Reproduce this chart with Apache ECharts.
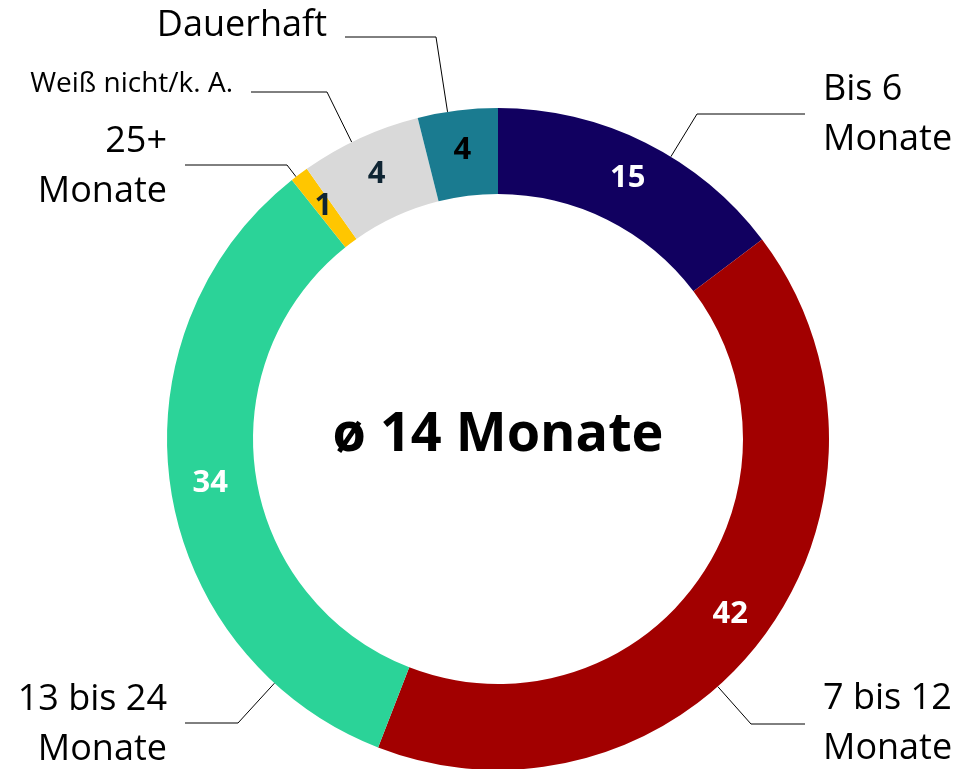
<!DOCTYPE html>
<html>
<head>
<meta charset="utf-8">
<script src="https://cdn.jsdelivr.net/npm/echarts@6/dist/echarts.min.js"></script>
<style>
html, body { margin: 0; padding: 0; background: #fff; }
#chart { width: 962px; height: 769px; }
</style>
</head>
<body>
<div id="chart"></div>
<script>
var categories = ['Bis 6\nMonate', '7 bis 12\nMonate', '13 bis 24\nMonate', '25+\nMonate', 'Weiß nicht/k. A.', 'Dauerhaft'];
// slice sizes as drawn in the picture
var shares = [14.7, 41.2, 33.4, 0.9, 5.9, 3.9];
// numbers printed on the slices
var valueLabels = ['15', '42', '34', '1', '4', '4'];
var centerText = 'ø 14 Monate';

var colors = ['#110060', '#A20000', '#2BD398', '#FFC600', '#D9D9D9', '#1A7B90'];
var valueColors = ['#fff', '#fff', '#fff', '#0f2533', '#0f2533', '#000'];

// where the outside labels sit: [textX, textY, elbowX, lineY, align]
var labelSpots = [
    [823, 115, 697, 114, 'left'],
    [823, 724, 751, 724, 'left'],
    [167, 725, 238, 723, 'right'],
    [167, 167, 287, 165, 'right'],
    [233, 84, 327, 92, 'right'],
    [327, 26, 436, 37, 'right']
];

var center = [498, 439],
    radius = [245, 331],
    font = 'Open Sans';

// leader: radial from ring edge towards the elbow, then horizontal to the text
function leader(i) {
    var s = labelSpots[i];
    var dx = s[2] - center[0], dy = s[3] - center[1];
    var d = Math.sqrt(dx * dx + dy * dy);
    var start = [center[0] + dx / d * radius[1], center[1] + dy / d * radius[1]];
    var endX = s[4] === 'left' ? s[0] - 18 : s[0] + 18;
    return [start, [s[2], s[3]], [endX, s[3]]];
}

var outerData = shares.map(function (v, i) {
    var item = { value: v, name: categories[i], itemStyle: { color: colors[i] } };
    if (i === 4) {
        item.label = { fontSize: 28, lineHeight: 34 };
    }
    return item;
});

var innerData = shares.map(function (v, i) {
    return { value: v, name: categories[i], label: { color: valueColors[i] } };
});

var myChart = echarts.init(document.getElementById('chart'));

myChart.setOption({
    animation: false,
    graphic: [{
        type: 'text',
        style: {
            x: center[0],
            y: 436,
            text: centerText,
            fontFamily: font,
            fontSize: 54,
            fontWeight: 'bold',
            fill: '#000',
            align: 'center',
            verticalAlign: 'middle'
        }
    }],
    series: [
        {
            type: 'pie',
            center: center,
            radius: radius,
            startAngle: 90,
            clockwise: true,
            avoidLabelOverlap: false,
            silent: true,
            itemStyle: { borderWidth: 0 },
            label: {
                show: true,
                position: 'outside',
                formatter: '{b}',
                fontFamily: font,
                fontSize: 36,
                lineHeight: 50,
                color: '#000'
            },
            labelLine: {
                show: true,
                lineStyle: { color: '#000', width: 1 }
            },
            labelLayout: function (params) {
                var s = labelSpots[params.dataIndex];
                return {
                    x: s[0],
                    y: s[1],
                    align: s[4],
                    verticalAlign: 'middle',
                    labelLinePoints: leader(params.dataIndex)
                };
            },
            data: outerData
        },
        {
            type: 'pie',
            center: center,
            radius: radius,
            startAngle: 90,
            clockwise: true,
            silent: true,
            z: 3,
            itemStyle: { color: 'rgba(0,0,0,0)', borderWidth: 0 },
            label: {
                show: true,
                position: 'inside',
                formatter: function (p) {
                    return valueLabels[p.dataIndex];
                },
                fontFamily: font,
                fontSize: 31,
                fontWeight: 'bold'
            },
            labelLine: { show: false },
            data: innerData
        }
    ]
});
</script>
</body>
</html>
